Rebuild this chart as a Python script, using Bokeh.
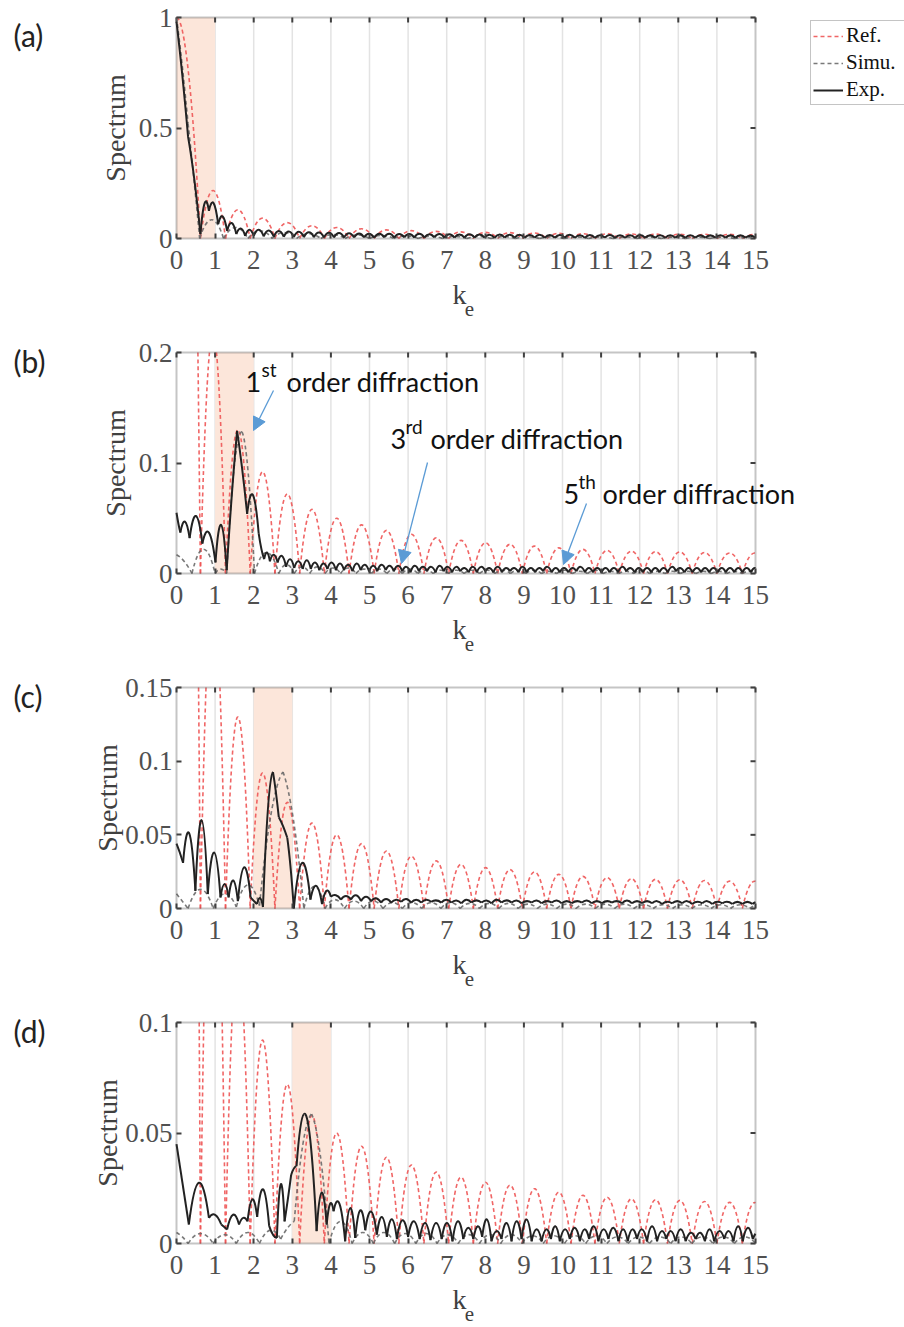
import numpy as np
from bokeh.plotting import figure
from bokeh.models import (Range1d, FixedTicker, BoxAnnotation, Label,
                          Arrow, NormalHead, Legend, LegendItem, ColumnDataSource)
from bokeh.layouts import column
from bokeh.embed import file_html
from bokeh.resources import INLINE

# ------------------------------------------------------------------ data
panel_tags = ["(a)", "(b)", "(c)", "(d)"]
k_ticks = list(range(16))
grid_k = list(range(1, 15))
k_min, k_max = 0, 15
y_max = [1.0, 0.2, 0.15, 0.1]
y_ticks = [[0, 0.5, 1.0], [0, 0.1, 0.2], [0, 0.05, 0.1, 0.15], [0, 0.05, 0.1]]
y_tick_labels = [["0", "0.5", "1"], ["0", "0.1", "0.2"],
                 ["0", "0.05", "0.1", "0.15"], ["0", "0.05", "0.1"]]
band_lo = [0, 1, 2, 3]
band_hi = [1, 2, 3, 4]
series_names = ["Ref.", "Simu.", "Exp."]

# Each curve: knots (k, value) and the value at the middle of each lobe between knots.
# Reference spectrum (same in all four panels)
ref_k = [-0.62, 0.62, 1.27, 1.91, 2.55, 3.19, 3.83, 4.47, 5.12, 5.76, 6.41, 7.05, 7.69,
         8.32, 8.96, 9.59, 10.22, 10.84, 11.47, 12.10, 12.72, 13.36, 14.00, 14.66, 15.30]
ref_y = [0.0, 0.0, 0.0, 0.0, 0.0, 0.0, 0.0, 0.0, 0.0, 0.0, 0.0, 0.0, 0.0,
         0.0, 0.0, 0.0, 0.0, 0.0, 0.0, 0.0, 0.0, 0.0, 0.0, 0.0, 0.0]
ref_pk = [1.0, 0.217, 0.130, 0.092, 0.072, 0.058, 0.050, 0.044, 0.039, 0.0355, 0.0323, 0.030,
          0.0277, 0.0264, 0.0248, 0.0232, 0.0218, 0.0209, 0.0202, 0.0198, 0.0195, 0.019, 0.0186, 0.0185]

# ---- panel (a)
a_exp_k = [0.00, 0.30, 0.62, 0.84, 1.08, 1.31, 1.55, 1.78,
           2.00, 2.26, 2.52, 2.78, 3.04, 3.30, 3.56, 3.82, 4.08, 4.34,
           4.60, 4.86, 5.12, 5.38, 5.64, 5.90, 6.16, 6.42, 6.68, 6.94,
           7.20, 7.46, 7.72, 7.98, 8.24, 8.50, 8.76, 9.02, 9.28, 9.54,
           9.80, 10.06, 10.32, 10.58, 10.84, 11.10, 11.36, 11.62, 11.88, 12.14,
           12.40, 12.66, 12.92, 13.18, 13.44, 13.70, 13.96, 14.22, 14.48, 14.74,
           15.00]
a_exp_y = [0.98, 0.46, 0.02, 0.125, 0.065, 0.035, 0.020, 0.012,
           0.012, 0.010, 0.008, 0.008, 0.007, 0.006, 0.006, 0.005, 0.005, 0.005,
           0.005, 0.005, 0.004, 0.005, 0.004, 0.005, 0.004, 0.004, 0.005, 0.004,
           0.004, 0.004, 0.004, 0.004, 0.003, 0.004, 0.004, 0.003, 0.004, 0.003,
           0.003, 0.004, 0.003, 0.003, 0.003, 0.004, 0.003, 0.003, 0.003, 0.003,
           0.003, 0.003, 0.003, 0.003, 0.003, 0.003, 0.003, 0.003, 0.003, 0.003,
           0.003]
a_exp_pk = [0.74, 0.27, 0.16, 0.16, 0.10, 0.07, 0.045, 0.040,
            0.040, 0.036, 0.034, 0.032, 0.030, 0.028, 0.027, 0.026, 0.025, 0.024,
            0.023, 0.022, 0.022, 0.021, 0.020, 0.020, 0.021, 0.019, 0.020, 0.019,
            0.018, 0.019, 0.018, 0.017, 0.018, 0.017, 0.017, 0.016, 0.017, 0.016,
            0.016, 0.017, 0.015, 0.016, 0.015, 0.016, 0.015, 0.015, 0.016, 0.014,
            0.015, 0.015, 0.014, 0.015, 0.014, 0.014, 0.015, 0.014, 0.014, 0.013]
a_sim_k = [0.00, 0.30, 0.60, 1.22, 1.85, 2.48, 3.11, 3.74, 4.37, 5.00, 5.63, 6.26, 6.89,
           7.52, 8.15, 8.78, 9.41, 10.04, 10.67, 11.30, 11.93, 12.56, 13.19, 13.82, 14.45, 15.08]
a_sim_y = [1.00, 0.52, 0.0, 0.0, 0.0, 0.0, 0.0, 0.0, 0.0, 0.0, 0.0, 0.0, 0.0,
           0.0, 0.0, 0.0, 0.0, 0.0, 0.0, 0.0, 0.0, 0.0, 0.0, 0.0, 0.0, 0.0]
a_sim_pk = [0.78, 0.27, 0.085, 0.050, 0.035, 0.027, 0.022, 0.018, 0.016, 0.014, 0.012, 0.011,
            0.010, 0.009, 0.009, 0.008, 0.008, 0.007, 0.007, 0.007, 0.006, 0.006, 0.006, 0.006, 0.005]

# ---- panel (b)
b_exp_k = [0.00, 0.10, 0.34, 0.67, 1.01, 1.30, 1.57, 1.83, 2.13, 2.27, 2.42, 2.62,
           2.84, 3.05, 3.27, 3.48, 3.70, 3.91, 4.13, 4.34, 4.56, 4.77,
           4.99, 5.20, 5.42, 5.63, 5.85, 6.06, 6.28, 6.49, 6.71, 6.92,
           7.14, 7.35, 7.57, 7.78, 8.00, 8.21, 8.43, 8.64, 8.86, 9.07,
           9.29, 9.50, 9.72, 9.93, 10.15, 10.36, 10.58, 10.79, 11.01, 11.22,
           11.44, 11.65, 11.87, 12.08, 12.30, 12.51, 12.73, 12.94, 13.16, 13.37,
           13.59, 13.80, 14.02, 14.23, 14.45, 14.66, 14.88, 15.09]
b_exp_y = [0.055, 0.037, 0.032, 0.027, 0.010, 0.003, 0.129, 0.054, 0.036, 0.013, 0.011, 0.010,
           0.006, 0.005, 0.004, 0.004, 0.003, 0.004, 0.003, 0.003, 0.002, 0.003,
           0.002, 0.002, 0.003, 0.002, 0.002, 0.001, 0.002, 0.002, 0.001, 0.002,
           0.001, 0.002, 0.001, 0.001, 0.002, 0.001, 0.001, 0.002, 0.001, 0.001,
           0.001, 0.002, 0.001, 0.001, 0.001, 0.002, 0.001, 0.001, 0.001, 0.001,
           0.001, 0.002, 0.001, 0.001, 0.001, 0.001, 0.001, 0.002, 0.001, 0.001,
           0.001, 0.001, 0.001, 0.001, 0.001, 0.001, 0.001, 0.001]
b_exp_pk = [0.045, 0.047, 0.052, 0.037, 0.044, 0.072, 0.095, 0.071, 0.022, 0.019, 0.017,
            0.016, 0.013, 0.011, 0.012, 0.010, 0.009, 0.010, 0.009, 0.008, 0.009,
            0.008, 0.007, 0.008, 0.007, 0.007, 0.006, 0.007, 0.006, 0.006, 0.007,
            0.006, 0.006, 0.005, 0.006, 0.006, 0.005, 0.006, 0.005, 0.005, 0.006,
            0.005, 0.005, 0.006, 0.005, 0.005, 0.005, 0.006, 0.005, 0.005, 0.005,
            0.005, 0.006, 0.005, 0.005, 0.005, 0.005, 0.005, 0.006, 0.005, 0.005,
            0.005, 0.005, 0.005, 0.005, 0.005, 0.005, 0.005, 0.005]
b_sim_k = [0.00, 0.40, 1.00, 1.30, 1.70, 2.02, 2.65,
           3.05, 3.45, 3.85, 4.25, 4.65, 5.05, 5.45, 5.85, 6.25, 6.65,
           7.05, 7.45, 7.85, 8.25, 8.65, 9.05, 9.45, 9.85, 10.25, 10.65,
           11.05, 11.45, 11.85, 12.25, 12.65, 13.05, 13.45, 13.85, 14.25, 14.65,
           15.05]
b_sim_y = [0.017, 0.0, 0.0, 0.0, 0.128, 0.0, 0.0,
           0.0, 0.0, 0.0, 0.0, 0.0, 0.0, 0.0, 0.0, 0.0, 0.0,
           0.0, 0.0, 0.0, 0.0, 0.0, 0.0, 0.0, 0.0, 0.0, 0.0,
           0.0, 0.0, 0.0, 0.0, 0.0, 0.0, 0.0, 0.0, 0.0, 0.0,
           0.0]
b_sim_pk = [0.011, 0.022, 0.004, 0.098, 0.090, 0.019,
            0.008, 0.006, 0.006, 0.005, 0.005, 0.004, 0.004, 0.004, 0.004, 0.003,
            0.003, 0.003, 0.003, 0.003, 0.003, 0.003, 0.003, 0.002, 0.003, 0.002,
            0.003, 0.002, 0.002, 0.003, 0.002, 0.002, 0.002, 0.002, 0.002, 0.002,
            0.002]

# ---- panel (c)
c_exp_k = [0.00, 0.17, 0.49, 0.81, 1.14, 1.35, 1.59, 1.92, 2.09, 2.24, 2.50, 2.65, 2.87,
           3.04, 3.47, 3.77, 4.00,
           4.26, 4.52, 4.78, 5.04, 5.30, 5.56, 5.82, 6.08, 6.34, 6.60,
           6.86, 7.12, 7.38, 7.64, 7.90, 8.16, 8.42, 8.68, 8.94, 9.20,
           9.46, 9.72, 9.98, 10.24, 10.50, 10.76, 11.02, 11.28, 11.54, 11.80,
           12.06, 12.32, 12.58, 12.84, 13.10, 13.36, 13.62, 13.88, 14.14, 14.40,
           14.66, 14.92, 15.18]
c_exp_y = [0.044, 0.031, 0.012, 0.0098, 0.0075, 0.0075, 0.005, 0.0075, 0.003, 0.001, 0.0926,
           0.062, 0.048, 0.000, 0.006, 0.003, 0.008,
           0.006, 0.006, 0.005, 0.005, 0.004, 0.004, 0.0045, 0.004, 0.004, 0.0045,
           0.004, 0.004, 0.0035, 0.004, 0.004, 0.0035, 0.004, 0.004, 0.0035, 0.004,
           0.0035, 0.004, 0.0035, 0.0035, 0.004, 0.0035, 0.0035, 0.004, 0.0035, 0.0035,
           0.0035, 0.0035, 0.003, 0.0035, 0.0035, 0.003, 0.0035, 0.003, 0.0035, 0.003,
           0.003, 0.003, 0.003]
c_exp_pk = [0.038, 0.051, 0.060, 0.038, 0.0166, 0.019, 0.028, 0.005, 0.007, 0.068, 0.079,
            0.056, 0.028, 0.031, 0.0154, 0.012,
            0.009, 0.0085, 0.009, 0.008, 0.007, 0.0065, 0.006, 0.0065, 0.006, 0.006,
            0.0055, 0.006, 0.0055, 0.006, 0.0055, 0.0055, 0.006, 0.0055, 0.0055, 0.005,
            0.0055, 0.005, 0.0055, 0.005, 0.005, 0.0055, 0.005, 0.005, 0.005, 0.0055,
            0.005, 0.005, 0.005, 0.0045, 0.005, 0.005, 0.0045, 0.005, 0.0045, 0.0045,
            0.0045, 0.0045, 0.0045]
c_sim_k = [0.00, 0.30, 0.95, 1.55, 2.15, 2.76, 3.30, 3.85,
           4.35, 4.85, 5.35, 5.85, 6.35, 6.85, 7.35, 7.85, 8.35, 8.85,
           9.35, 9.85, 10.35, 10.85, 11.35, 11.85, 12.35, 12.85, 13.35, 13.85,
           14.35, 14.85, 15.35]
c_sim_y = [0.010, 0.0, 0.0, 0.001, 0.002, 0.0926, 0.0, 0.0,
           0.0, 0.0, 0.0, 0.0, 0.0, 0.0, 0.0, 0.0, 0.0, 0.0,
           0.0, 0.0, 0.0, 0.0, 0.0, 0.0, 0.0, 0.0, 0.0, 0.0,
           0.0, 0.0, 0.0]
c_sim_pk = [0.005, 0.013, 0.010, 0.016, 0.065, 0.060, 0.015,
            0.006, 0.005, 0.005, 0.004, 0.004, 0.004, 0.004, 0.0035, 0.0035, 0.0035,
            0.003, 0.003, 0.003, 0.003, 0.003, 0.003, 0.0025, 0.0025, 0.0025, 0.0025,
            0.0025, 0.0025, 0.0025]

# ---- panel (d)
d_exp_k = [0.00, 0.32, 0.84, 1.16, 1.31, 1.62, 1.84, 2.09, 2.40, 2.60, 2.80, 2.97, 3.11,
           3.30, 3.63, 3.89, 4.07, 4.37, 4.63, 4.89,
           5.19, 5.45, 5.71, 6.00, 6.30, 6.58, 6.87, 7.15, 7.43, 7.69,
           7.92, 8.16, 8.42, 8.68, 8.94, 9.20, 9.46, 9.70, 9.93, 10.19,
           10.45, 10.69, 10.93, 11.19, 11.45, 11.69, 11.93, 12.19, 12.45, 12.69,
           12.93, 13.19, 13.45, 13.69, 13.93, 14.19, 14.43, 14.67, 14.93, 15.19]
d_exp_y = [0.045, 0.0086, 0.0116, 0.0086, 0.0063, 0.0086, 0.010, 0.012, 0.008, 0.0025, 0.010,
           0.031, 0.035, 0.0585, 0.0056, 0.0086, 0.0146, 0.001, 0.0025, 0.006,
           0.004, 0.003, 0.002, 0.003, 0.002, 0.0015, 0.002, 0.001, 0.002, 0.002,
           0.003, 0.001, 0.002, 0.001, 0.002, 0.001, 0.001, 0.002, 0.001, 0.002,
           0.001, 0.002, 0.001, 0.002, 0.001, 0.001, 0.002, 0.001, 0.001, 0.002,
           0.001, 0.001, 0.002, 0.001, 0.001, 0.002, 0.001, 0.001, 0.002, 0.001]
d_exp_pk = [0.027, 0.0275, 0.013, 0.0075, 0.013, 0.0116, 0.020, 0.0245, 0.004, 0.0267,
            0.020, 0.034, 0.052, 0.047, 0.023, 0.018, 0.018, 0.016, 0.015,
            0.0145, 0.012, 0.011, 0.0105, 0.0101, 0.0093, 0.0093, 0.0093, 0.0101, 0.0071,
            0.0078, 0.0109, 0.0056, 0.0093, 0.0101, 0.0109, 0.0064, 0.0064, 0.0078, 0.0064,
            0.0071, 0.0064, 0.0078, 0.0064, 0.0071, 0.0064, 0.0064, 0.0064, 0.0078, 0.0056,
            0.0056, 0.0064, 0.0049, 0.0049, 0.0064, 0.0056, 0.0056, 0.0078, 0.0071, 0.0049]
d_sim_k = [0.00, 0.30, 0.95, 1.55, 2.15, 2.70, 3.05, 3.50, 3.95, 4.55,
           5.10, 5.65, 6.20, 6.75, 7.30, 7.85, 8.40, 8.95, 9.50, 10.05,
           10.60, 11.15, 11.70, 12.25, 12.80, 13.35, 13.90, 14.45, 15.00]
d_sim_y = [0.005, 0.0, 0.0, 0.0, 0.0, 0.002, 0.010, 0.0586, 0.0, 0.0,
           0.0, 0.0, 0.0, 0.0, 0.0, 0.0, 0.0, 0.0, 0.0, 0.0,
           0.0, 0.0, 0.0, 0.0, 0.0, 0.0, 0.0, 0.0, 0.0]
d_sim_pk = [0.003, 0.0045, 0.004, 0.005, 0.006, 0.007, 0.045, 0.040, 0.010,
            0.005, 0.005, 0.0045, 0.0045, 0.004, 0.004, 0.004, 0.004, 0.0035, 0.0035,
            0.0035, 0.0035, 0.003, 0.003, 0.003, 0.003, 0.003, 0.003, 0.003]

exp_curves = [(a_exp_k, a_exp_y, a_exp_pk), (b_exp_k, b_exp_y, b_exp_pk),
              (c_exp_k, c_exp_y, c_exp_pk), (d_exp_k, d_exp_y, d_exp_pk)]
sim_curves = [(a_sim_k, a_sim_y, a_sim_pk), (b_sim_k, b_sim_y, b_sim_pk),
              (c_sim_k, c_sim_y, c_sim_pk), (d_sim_k, d_sim_y, d_sim_pk)]

# ------------------------------------------------------------------ layout constants (page px)
FIG_W = 904
STEP = 335
heights = [335, 335, 335, 322]
BOX_L, BOX_R = 176, 755           # plot box, page x
BOX_T, BOX_B = 17, 238            # plot box, y inside each figure
TICK_LEN = 5

SERIF = "Liberation Serif"
SANS = "Lato"
REF_STYLE = dict(line_color="#ee5555", line_alpha=0.9, line_width=1.6, line_dash="4 3")
SIM_STYLE = dict(line_color="#6a6a6a", line_alpha=0.9, line_width=1.6, line_dash="4 3")
EXP_STYLE = dict(line_color="#222222", line_width=2.0)
ARROW_C = "#5b9bd5"
BOX_C = "#404040"


def kx(px):
    return (px - BOX_L) / (BOX_R - BOX_L) * (k_max - k_min) + k_min


def vy(i, py_local):
    return (BOX_B - py_local) / (BOX_B - BOX_T) * y_max[i]


def quad_segments(k, y, pk):
    k = np.asarray(k, float)
    y = np.asarray(y, float)
    pk = np.asarray(pk, float)
    n = min(len(k) - 1, len(pk))
    x0, x1 = k[:n], k[1:n + 1]
    y0, y1 = y[:n], y[1:n + 1]
    return x0, y0, (x0 + x1) / 2, 2 * pk[:n] - (y0 + y1) / 2, x1, y1


def clip_quads(segs, box):
    """Split quadratic Bezier segments at the plot box edges and keep the inside parts."""
    xmin, xmax, ymin, ymax = box
    out = {"x0": [], "y0": [], "cx": [], "cy": [], "x1": [], "y1": []}
    for (ax, ay, bx, by, qx, qy) in zip(*segs):
        P = np.array([[ax, ay], [bx, by], [qx, qy]])
        ts = [0.0, 1.0]
        for dim, lims in ((0, (xmin, xmax)), (1, (ymin, ymax))):
            p0, c, p2 = P[0, dim], P[1, dim], P[2, dim]
            a = p0 - 2 * c + p2
            b = 2 * (c - p0)
            for v in lims:
                cc = p0 - v
                roots = []
                if abs(a) < 1e-14:
                    if abs(b) > 1e-14:
                        roots = [-cc / b]
                else:
                    disc = b * b - 4 * a * cc
                    if disc >= 0:
                        sq = np.sqrt(disc)
                        roots = [(-b - sq) / (2 * a), (-b + sq) / (2 * a)]
                ts += [t for t in roots if 1e-9 < t < 1 - 1e-9]
        ts = sorted(set(ts))

        def bl(u, w):
            return (1 - u) * (1 - w) * P[0] + ((1 - u) * w + u * (1 - w)) * P[1] + u * w * P[2]

        for t0, t1 in zip(ts[:-1], ts[1:]):
            m = bl((t0 + t1) / 2, (t0 + t1) / 2)
            ex = 1e-9 * (xmax - xmin)
            ey = 1e-6 * (ymax - ymin)
            if xmin - ex <= m[0] <= xmax + ex and ymin - ey <= m[1] <= ymax + ey:
                s, e, cpt = bl(t0, t0), bl(t1, t1), bl(t0, t1)
                out["x0"].append(s[0]); out["y0"].append(s[1])
                out["cx"].append(cpt[0]); out["cy"].append(cpt[1])
                out["x1"].append(e[0]); out["y1"].append(e[1])
    return out


def draw_curve(p, i, curve, style):
    segs = quad_segments(*curve)
    src = ColumnDataSource(clip_quads(segs, (k_min, k_max, 0.0, y_max[i])))
    return p.quadratic(x0="x0", y0="y0", x1="x1", y1="y1", cx="cx", cy="cy",
                       source=src, **style)


def add_label(p, i, px, py_local, text, size, font=SANS, align="left", baseline="alphabetic",
              color="#111111", angle=0.0):
    p.add_layout(Label(x=kx(px), y=vy(i, py_local), text=text, text_font=font,
                       text_font_size=f"{size}px", text_align=align, text_baseline=baseline,
                       text_color=color, angle=angle))


figs = []
for i in range(4):
    H = heights[i]
    ym = y_max[i]
    p = figure(width=FIG_W, height=H, output_backend="svg", toolbar_location=None,
               x_range=Range1d(kx(0), kx(FIG_W)), y_range=Range1d(vy(i, H), vy(i, 0)),
               min_border=0)
    p.background_fill_color = "white"
    p.border_fill_color = "white"
    p.outline_line_color = None

    # shaded band
    p.add_layout(BoxAnnotation(left=band_lo[i], right=band_hi[i], bottom=0, top=ym,
                               fill_color="#fce6da", fill_alpha=1.0, line_color=None,
                               level="underlay"))

    # vertical grid lines, limited to the plot box
    p.ygrid.grid_line_color = None
    p.xgrid.grid_line_color = None
    p.segment(x0=grid_k, y0=[0] * len(grid_k), x1=grid_k, y1=[ym] * len(grid_k),
              line_color="#e3e3e3", line_width=1.5, level="underlay")

    # axes drawn at the plot box edges
    for ax in (p.xaxis[0], p.yaxis[0]):
        ax.axis_line_color = None
        ax.major_tick_in = TICK_LEN
        ax.major_tick_out = 0
        ax.major_tick_line_color = BOX_C
        ax.major_tick_line_width = 2
        ax.minor_tick_line_color = None
        ax.major_label_text_font = SERIF
        ax.major_label_text_font_size = "27px"
        ax.major_label_text_color = "#505050"
    p.xaxis.fixed_location = 0
    p.xaxis.ticker = FixedTicker(ticks=k_ticks)
    p.xaxis.major_label_standoff = 12
    p.yaxis.fixed_location = k_min
    p.yaxis.ticker = FixedTicker(ticks=y_ticks[i])
    p.yaxis.major_label_overrides = {t: s for t, s in zip(y_ticks[i], y_tick_labels[i])}
    p.yaxis.major_label_standoff = 4

    # mirrored inner ticks on the top and right edges
    dk = TICK_LEN / (BOX_R - BOX_L) * (k_max - k_min)
    dv = TICK_LEN / (BOX_B - BOX_T) * ym
    p.segment(x0=k_ticks, y0=[ym] * len(k_ticks), x1=k_ticks, y1=[ym - dv] * len(k_ticks),
              line_color=BOX_C, line_width=2)
    p.segment(x0=[k_max] * len(y_ticks[i]), y0=y_ticks[i],
              x1=[k_max - dk] * len(y_ticks[i]), y1=y_ticks[i],
              line_color=BOX_C, line_width=2)

    # curves (clipped to the plot box)
    r_ref = draw_curve(p, i, (ref_k, ref_y, ref_pk), REF_STYLE)
    r_sim = draw_curve(p, i, sim_curves[i], SIM_STYLE)
    r_exp = draw_curve(p, i, exp_curves[i], EXP_STYLE)

    # plot box outline
    p.add_layout(BoxAnnotation(left=k_min, right=k_max, bottom=0, top=ym, fill_alpha=0,
                               line_color=BOX_C, line_width=2, level="overlay"))

    # panel tag
    tag_y = [34, 25, 25, 25][i]
    add_label(p, i, 13, tag_y, panel_tags[i], 30, baseline="middle", color="#222222")
    # y-axis title
    add_label(p, i, [115, 115, 107, 107][i], (BOX_T + BOX_B) / 2, "Spectrum", 28,
              font=SERIF, align="center", baseline="middle", color="#404040", angle=np.pi / 2)
    # x-axis title k_e
    add_label(p, i, 459, 294, "k", 28, font=SERIF, align="center", color="#404040")
    add_label(p, i, 469, 308, "e", 21, font=SERIF, align="center", color="#404040")

    if i == 0:
        leg = Legend(items=[LegendItem(label=series_names[0], renderers=[r_ref]),
                            LegendItem(label=series_names[1], renderers=[r_sim]),
                            LegendItem(label=series_names[2], renderers=[r_exp])],
                     location=(810, H - 105),
                     label_text_font=SERIF, label_text_font_size="21px",
                     label_text_color="#111111", glyph_width=30, glyph_height=20,
                     label_height=20, label_width=56, label_standoff=3, spacing=2,
                     padding=2, margin=0,
                     border_line_color="#8a8a8a", border_line_width=1,
                     background_fill_color="white", background_fill_alpha=1.0)
        p.add_layout(leg)

    if i == 1:
        # (number x, baseline, superscript baseline, superscript x, rest x, number, superscript)
        notes = [
            (245, 46, 34, 261, 286, "1", "st"),
            (390, 103, 91, 405, 430, "3", "rd"),
            (563, 158, 146, 578, 602, "5", "th"),
        ]
        for (nx, bl_, sbl, sx, ox, num, sup) in notes:
            add_label(p, i, nx, bl_, num, 27)
            add_label(p, i, sx, sbl, sup, 19)
            add_label(p, i, ox, bl_, "order diffraction", 27)
        arrows = [((273, 55), (253, 95)), ((427, 127), (401, 228)), ((586, 168), (563, 229))]
        for (t0, t1) in arrows:
            p.add_layout(Arrow(x_start=kx(t0[0]), y_start=vy(i, t0[1]),
                               x_end=kx(t1[0]), y_end=vy(i, t1[1]),
                               line_color=ARROW_C, line_width=1.3,
                               end=NormalHead(size=13, fill_color=ARROW_C, line_color=ARROW_C)))
    figs.append(p)

layout = column(*figs, spacing=0)
open("out.html", "w").write(file_html(layout, INLINE))
